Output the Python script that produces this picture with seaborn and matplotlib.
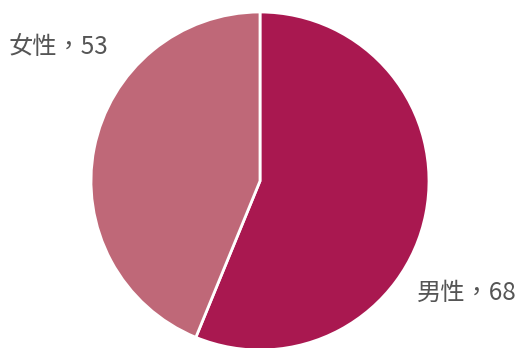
import matplotlib
matplotlib.use("Agg")
import matplotlib.pyplot as plt
import seaborn as sns
import pandas as pd

categories = ["男性", "女性"]
values = [68, 53]
colors = ["#A91850", "#BF6878"]

df = pd.DataFrame({"category": categories, "value": values})

sns.set_theme(style="white")
plt.rcParams["font.family"] = ["Noto Sans CJK TC", "DejaVu Sans"]

fig = plt.figure(figsize=(5.18, 3.48), dpi=100)
ax = fig.add_axes([0, 0, 1, 1])

ax.pie(df["value"], colors=colors, startangle=90, counterclock=False,
       center=(260, 167), radius=169,
       wedgeprops=dict(edgecolor="white", linewidth=2))
ax.set_xlim(0, 518)
ax.set_ylim(0, 348)
ax.set_aspect("equal")
ax.axis("off")

label_pos = {"男性": (417, 55), "女性": (9, 301)}
for cat, val in zip(df["category"], df["value"]):
    x, y = label_pos[cat]
    ax.text(x, y, f"{cat}，{val}", fontsize=17.5, color="#555555",
            fontweight="light", ha="left", va="center")

fig.savefig("out.png", dpi=100)
